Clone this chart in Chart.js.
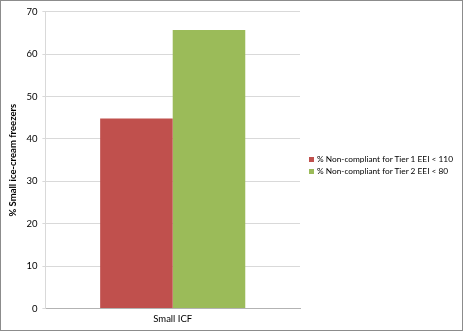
<!DOCTYPE html>
<html><head><meta charset="utf-8">
<script src="https://cdn.jsdelivr.net/npm/chart.js@4/dist/chart.umd.min.js"></script>
<style>
html,body{margin:0;padding:0;background:#fff;}
#wrap{position:relative;width:463px;height:331px;box-sizing:border-box;border:1px solid #8c8c8c;}
canvas{display:block;}
#legend{position:absolute;left:308px;top:152px;font-family:Lato,'Open Sans',sans-serif;font-size:8.3px;color:#000;line-height:12px;}
#legend .it{display:flex;align-items:center;white-space:nowrap;}
#legend .sw{width:5px;height:5px;margin-right:3px;}
</style></head><body>
<div id="wrap"><canvas id="c" width="461" height="329"></canvas><div id="legend"></div></div>
<script>
const categories = ["Small ICF"];
const seriesNames = ["% Non-compliant for Tier 1 EEI < 110", "% Non-compliant for Tier 2 EEI < 80"];
const tier1Values = [44.8];
const tier2Values = [65.7];
const yTicks = [0, 10, 20, 30, 40, 50, 60, 70];
const yTitle = "% Small ice-cream freezers";
const colors = ['#C0504D', '#9BBB59'];

Chart.defaults.font.family = "Lato, 'Open Sans', sans-serif";
const chart = new Chart(document.getElementById('c'), {
  type: 'bar',
  data: {
    labels: categories,
    datasets: [
      {label: seriesNames[0], data: tier1Values, backgroundColor: colors[0], borderWidth: 0},
      {label: seriesNames[1], data: tier2Values, backgroundColor: colors[1], borderWidth: 0}
    ]
  },
  options: {
    responsive: false,
    animation: false,
    layout: {padding: {top: 9, right: 162, bottom: 0, left: 3}},
    plugins: {
      legend: {display: false},
      tooltip: {enabled: false}
    },
    datasets: {bar: {categoryPercentage: 0.57, barPercentage: 1}},
    scales: {
      x: {
        grid: {display: false, drawTicks: false},
        border: {display: true, color: '#b3b3b3'},
        ticks: {color: '#000', font: {size: 9.5}, padding: 5}
      },
      y: {
        min: 0, max: 70,
        afterBuildTicks: (axis) => { axis.ticks = yTicks.map(v => ({value: v})); },
        grid: {color: '#d9d9d9', tickLength: 3},
        border: {display: true, color: '#d9d9d9'},
        ticks: {color: '#000', font: {size: 9.5}, padding: 5},
        title: {display: true, text: yTitle, color: '#000', font: {size: 9.5, weight: 'bold'}, padding: 3}
      }
    }
  }
});
const lg = document.getElementById('legend');
chart.data.datasets.forEach((ds) => {
  const it = document.createElement('div'); it.className = 'it';
  const sw = document.createElement('span'); sw.className = 'sw'; sw.style.background = ds.backgroundColor;
  const tx = document.createElement('span'); tx.textContent = ds.label;
  it.appendChild(sw); it.appendChild(tx); lg.appendChild(it);
});
</script>
</body></html>
